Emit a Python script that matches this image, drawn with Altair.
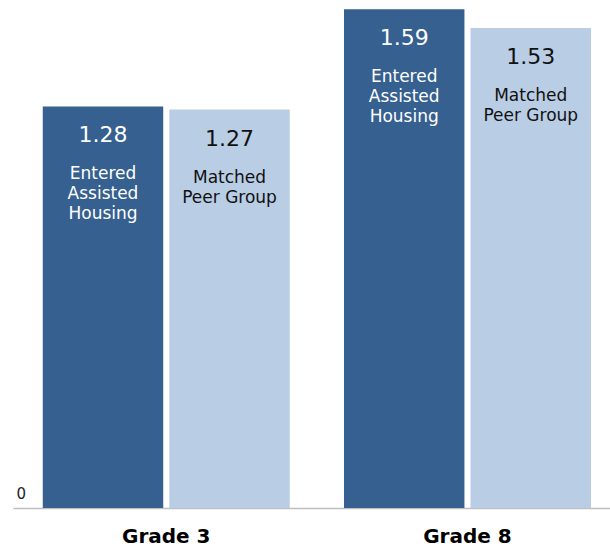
import altair as alt
import pandas as pd

# Mean values by grade for the two groups
grades = ["Grade 3", "Grade 3", "Grade 8", "Grade 8"]
groups = ["Entered Assisted Housing", "Matched Peer Group",
          "Entered Assisted Housing", "Matched Peer Group"]
values = [1.28, 1.27, 1.59, 1.53]
group_labels = {
    "Entered Assisted Housing": "Entered\nAssisted\nHousing",
    "Matched Peer Group": "Matched\nPeer Group",
}
group_order = ["Entered Assisted Housing", "Matched Peer Group"]
group_colors = ["#36608F", "#B9CDE5"]
text_colors = ["#FFFFFF", "#111111"]

df = pd.DataFrame({"grade": grades, "group": groups, "value": values})
df["desc"] = df["group"].map(group_labels)
df["label"] = df["value"].map(lambda v: f"{v:.2f}")

FONT = "DejaVu Sans"

x_enc = alt.X(
    "grade:N",
    title=None,
    scale=alt.Scale(paddingInner=0.18, paddingOuter=0.081, align=0.61),
    axis=alt.Axis(
        labelFont=FONT, labelFontSize=20, labelFontWeight="bold",
        labelColor="#000000", labelAngle=0, labelPadding=18,
        ticks=False, domainColor="#BFBFBF", domainWidth=1.5,
    ),
)
xoff = alt.XOffset("group:N", sort=group_order,
                   scale=alt.Scale(paddingInner=0.048, paddingOuter=0))
y_enc = alt.Y(
    "value:Q",
    title=None,
    scale=alt.Scale(domain=[0, 1.6], nice=False),
    axis=alt.Axis(
        values=[0], domain=False, ticks=False, grid=False,
        labelFont=FONT, labelFontSize=15, labelColor="#222222",
        labelAlign="left", labelPadding=-3, labelBaseline="bottom",
        labelOffset=-7,
    ),
)
color_scale = alt.Scale(domain=group_order, range=group_colors)
text_scale = alt.Scale(domain=group_order, range=text_colors)

base = alt.Chart(df).encode(x=x_enc, xOffset=xoff, y=y_enc)

bars = base.mark_bar().encode(
    color=alt.Color("group:N", scale=color_scale, legend=None)
)

value_text = base.mark_text(
    font=FONT, fontSize=22, baseline="middle", dy=29
).encode(
    text="label:N",
    color=alt.Color("group:N", scale=text_scale, legend=None),
)

desc_text = base.mark_text(
    font=FONT, fontSize=17, baseline="top", dy=60, lineBreak="\n",
    lineHeight=20,
).encode(
    text="desc:N",
    color=alt.Color("group:N", scale=text_scale, legend=None),
)

chart = (
    alt.layer(bars, value_text, desc_text)
    .resolve_scale(color="independent")
    .properties(
        width=597, height=502,
        background="#FFFFFF",
        autosize=alt.AutoSizeParams(type="none"),
        padding={"left": 13, "top": 6, "right": 0, "bottom": 40},
    )
    .configure_view(strokeWidth=0)
)

chart.save("out.html", embed_options={"renderer": "svg", "actions": False})
